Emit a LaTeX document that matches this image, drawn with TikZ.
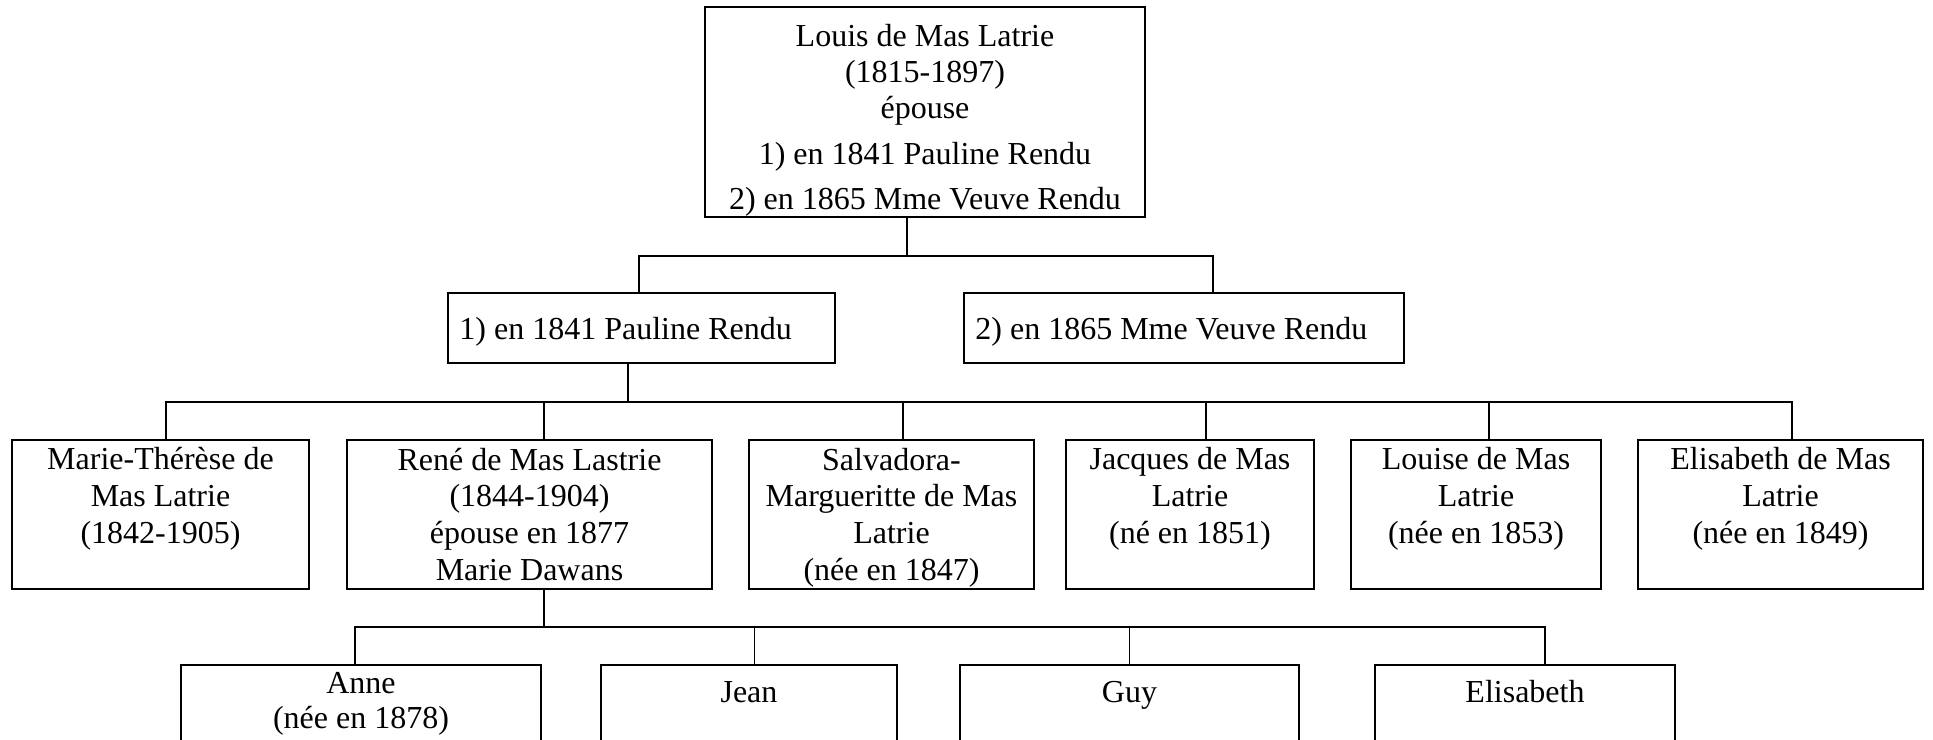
\documentclass[tikz,border=0pt]{standalone}
\usepackage{fontspec}
\setmainfont{Liberation Serif}
\begin{document}
\begin{tikzpicture}[x=0.5pt,y=-0.5pt,
  box/.style={draw, line width=0.85pt, inner sep=0pt, rectangle},
  bx/.style 2 args={box, minimum width=#1*0.5pt, minimum height=#2*0.5pt},
  txt/.style={font=\fontsize{16pt}{18.3pt}\selectfont, align=center, inner sep=0pt},
  link/.style={line width=0.7pt}]
\useasboundingbox (0,0) rectangle (1933,739);
\fill[white] (0,0) rectangle (1933,739);
\clip (0,0) rectangle (1933,739);

% boxes
\node[bx={440}{210}] (top) at (925,112) {};
\node[bx={387}{70}] (p1) at (641.5,328) {};
\node[bx={440}{70}] (p2) at (1184,328) {};
\node[bx={297}{149}] (mt) at (160.5,514.5) {};
\node[bx={365}{149}] (rene) at (529.5,514.5) {};
\node[bx={285}{149}] (salv) at (891.5,514.5) {};
\node[bx={248}{149}] (jacq) at (1190,514.5) {};
\node[bx={250}{149}] (lou) at (1476,514.5) {};
\node[bx={285}{149}] (elis) at (1780.5,514.5) {};
\node[bx={360}{150}] (anne) at (361,740) {};
\node[bx={296}{150}] (jean) at (749,740) {};
\node[bx={339}{150}] (guy) at (1129.5,740) {};
\node[bx={300}{150}] (eli2) at (1525,740) {};

% texts (base anchor = baseline of the last line)
\node[txt, font=\fontsize{16pt}{18pt}\selectfont, anchor=base] (topT) at (925,209)
  {Louis de Mas Latrie\\(1815-1897)\\épouse\\[5pt]1) en 1841 Pauline Rendu\\[4.5pt]2) en 1865 Mme Veuve Rendu};
\node[txt, anchor=base west] (p1T) at (459,339) {1) en 1841 Pauline Rendu};
\node[txt, anchor=base west] (p2T) at (975,339) {2) en 1865 Mme Veuve Rendu};
\node[txt, anchor=base] (mtT) at (160.5,543) {Marie-Thérèse de\\Mas Latrie\\(1842-1905)};
\node[txt, anchor=base] (reneT) at (529.5,580) {René de Mas Lastrie\\(1844-1904)\\épouse en 1877\\Marie Dawans};
\node[txt, anchor=base] (salvT) at (891.5,580) {Salvadora-\\Margueritte de Mas\\Latrie\\(née en 1847)};
\node[txt, anchor=base] (jacqT) at (1190,543) {Jacques de Mas\\Latrie\\(né en 1851)};
\node[txt, anchor=base] (louT) at (1476,543) {Louise de Mas\\Latrie\\(née en 1853)};
\node[txt, anchor=base] (elisT) at (1780.5,543) {Elisabeth de Mas\\Latrie\\(née en 1849)};
\node[txt, font=\fontsize{16pt}{17.5pt}\selectfont, anchor=base] (anneT) at (361,728) {Anne\\(née en 1878)};
\node[txt, anchor=base] (jeanT) at (749,702) {Jean};
\node[txt, anchor=base] (guyT) at (1129.5,702) {Guy};
\node[txt, anchor=base] (eli2T) at (1525,702) {Elisabeth};

% connectors
\coordinate (j2) at (907,256);
\coordinate (j3) at (628,402);
\coordinate (j4) at (544,627);
\draw[link] (top.south -| j2) -- (j2);
\draw[link] ([xshift=-1.25pt]p1.north) |- (j2);
\draw[link] ([xshift=14.5pt]p2.north) |- (j2);
\draw[link] (p1.south -| j3) -- (j3);
\draw[link] ([xshift=2.75pt]mt.north) |- (j3);
\draw[link] ([xshift=7.25pt]rene.north) |- (j3);
\draw[link] ([xshift=5.75pt]salv.north) |- (j3);
\draw[link] ([xshift=8pt]jacq.north) |- (j3);
\draw[link] ([xshift=6.5pt]lou.north) |- (j3);
\draw[link] ([xshift=5.75pt]elis.north) |- (j3);
\draw[link] (rene.south -| j4) -- (j4);
\draw[link] ([xshift=-3pt]anne.north) |- (j4);
\draw[link] ([xshift=2.75pt]jean.north) |- (j4);
\draw[link] (guy.north) |- (j4);
\draw[link] ([xshift=10pt]eli2.north) |- (j4);
\end{tikzpicture}
\end{document}
